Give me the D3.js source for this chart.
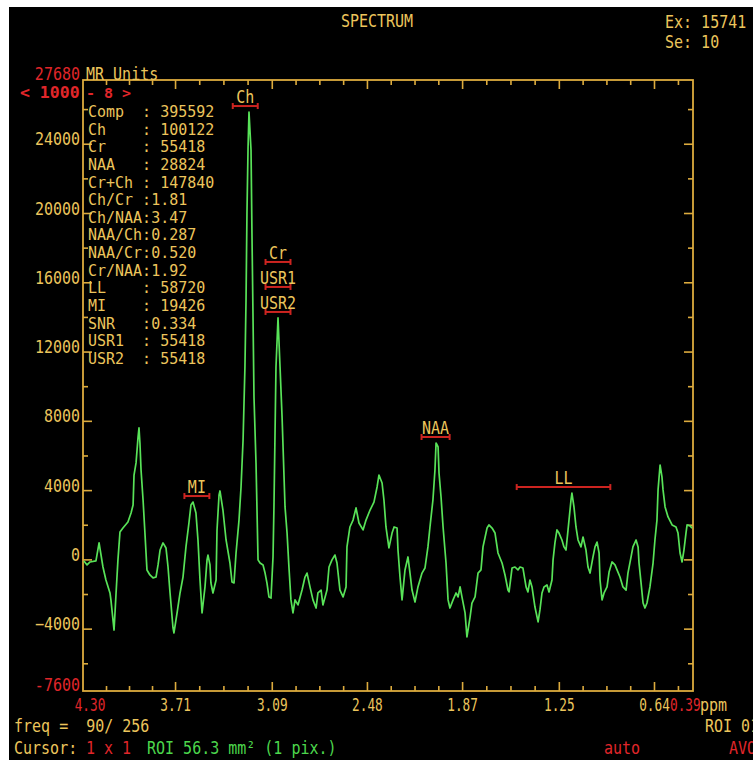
<!DOCTYPE html>
<html>
<head>
<meta charset="utf-8">
<script src="https://cdn.jsdelivr.net/npm/d3@7/dist/d3.min.js"></script>
<style>
  html, body { margin: 0; padding: 0; background: #ffffff; }
  svg { display: block; }
  text { font-family: "DejaVu Sans Mono", "Liberation Mono", monospace; white-space: pre; }
</style>
</head>
<body>
<svg id="chart" width="753" height="760"></svg>
<script>
// Spectrum samples: chemical shift (ppm) and signal (MR units)
const tracePpm = [
  4.294,4.274,4.255,4.217,4.197,4.172,4.153,4.127,4.121,4.101,
  4.088,4.076,4.063,4.044,4.012,3.992,3.979,3.973,3.960,3.947,
  3.941,3.935,3.928,3.915,3.903,3.890,3.871,3.851,3.832,3.819,
  3.806,3.787,3.768,3.755,3.742,3.723,3.717,3.697,3.678,3.659,
  3.640,3.621,3.608,3.595,3.576,3.563,3.550,3.537,3.518,3.505,
  3.499,3.486,3.480,3.467,3.447,3.441,3.428,3.422,3.403,3.383,
  3.358,3.345,3.332,3.319,3.300,3.287,3.274,3.262,3.255,3.249,
  3.242,3.236,3.223,3.217,3.210,3.204,3.191,3.178,3.165,3.146,
  3.133,3.121,3.108,3.095,3.082,3.076,3.063,3.050,3.037,3.024,
  3.005,2.992,2.980,2.967,2.954,2.941,2.922,2.896,2.877,2.864,
  2.845,2.826,2.806,2.794,2.774,2.762,2.736,2.723,2.704,2.685,
  2.672,2.653,2.633,2.614,2.608,2.589,2.569,2.550,2.531,2.505,
  2.486,2.460,2.435,2.415,2.403,2.383,2.371,2.358,2.339,2.319,
  2.306,2.287,2.281,2.268,2.255,2.236,2.217,2.204,2.191,2.172,
  2.153,2.127,2.108,2.089,2.076,2.057,2.044,2.037,2.024,2.018,
  2.005,1.992,1.973,1.960,1.948,1.928,1.909,1.896,1.883,1.871,
  1.851,1.839,1.819,1.807,1.787,1.768,1.749,1.736,1.710,1.698,
  1.678,1.659,1.640,1.614,1.595,1.576,1.569,1.550,1.531,1.512,
  1.499,1.480,1.460,1.448,1.435,1.422,1.403,1.383,1.371,1.358,
  1.345,1.326,1.313,1.294,1.287,1.275,1.262,1.249,1.230,1.217,
  1.204,1.191,1.172,1.166,1.153,1.140,1.127,1.108,1.095,1.076,
  1.063,1.050,1.031,1.018,1.005,0.992,0.986,0.973,0.960,0.941,
  0.928,0.909,0.890,0.877,0.858,0.839,0.819,0.807,0.787,0.775,
  0.755,0.742,0.736,0.723,0.710,0.698,0.685,0.666,0.646,0.634,
  0.621,0.614,0.601,0.589,0.582,0.569,0.550,0.524,0.499,0.486,
  0.473,0.460,0.448,0.435,0.428,0.409,0.396
];
const traceVal = [
  -90,-320,-150,-90,950,-440,-1190,-1940,-2340,-4080,
  -1940,-30,1580,1810,2160,2680,3140,4870,5570,7070,
  7590,6720,5160,3430,1520,-610,-900,-1070,-1020,-320,
  540,950,660,-440,-1940,-3960,-4250,-3090,-1940,-1020,
  720,2100,3140,3310,2680,1120,-1190,-3090,-1590,-30,
  250,-320,-1360,-1940,-1190,1700,3720,3950,2850,1120,
  -210,-1300,-1360,370,2270,4180,6890,11110,14980,20000,
  23810,25830,23640,18850,13820,9380,5570,-30,-210,-320,
  -790,-1360,-2170,-2230,140,3030,11110,13940,11110,8220,
  3030,1520,-440,-2340,-3090,-2340,-2630,-1770,-1020,-790,
  -1590,-2340,-2810,-1940,-1770,-2630,-1770,-440,-30,250,
  -210,-1770,-2170,-1590,720,1870,2270,2970,2100,1700,
  2270,2850,3310,4180,4870,4410,3430,1870,660,1520,
  1870,1810,540,-1020,-2340,-610,140,-790,-1770,-2460,
  -1590,-790,-500,720,1870,3430,5160,6720,6490,4990,
  3600,1870,-210,-2340,-2810,-2340,-1940,-2170,-1590,-2170,
  -3090,-4480,-3330,-2520,-2170,-790,-610,720,1810,1990,
  1810,1520,370,-210,-900,-1770,-1880,-500,-440,-610,
  -440,-500,-1590,-1880,-1190,-1590,-2750,-3610,-2920,-1940,
  -1590,-1480,-1880,-1190,-30,950,1700,1520,1120,720,
  540,1700,3430,3830,3030,1870,1120,720,1290,540,
  -440,-790,140,720,1000,370,-1190,-2340,-1940,-1590,
  -730,-150,-320,-610,-1020,-1590,-1770,-790,140,720,
  1120,720,-210,-1360,-2520,-2810,-2520,-1590,-210,1120,
  2270,4010,5450,4760,4010,3030,2450,1990,1870,1520,
  370,-150,540,1520,1990,1930,1810
];

// Axis ranges and tick labels
const ppmRange = [4.30, 0.39];
const signalRange = [-7600, 27680];
const xTickLabels = [3.71, 3.09, 2.48, 1.87, 1.25, 0.64];
const yTickLabels = [24000, 20000, 16000, 12000, 8000, 4000, 0, -4000];
const yMinorTicks = [26000, 22000, 18000, 14000, 10000, 6000, 2000, -2000, -6000];

// Integration regions (ppm)
const regionNames = ["Ch", "Cr", "USR1", "USR2", "MI", "NAA", "LL"];
const regionFrom  = [3.34, 3.13, 3.13, 3.13, 3.65, 2.13, 1.52];
const regionTo    = [3.18, 2.97, 2.97, 2.97, 3.49, 1.95, 0.92];

// Result table
const statNames  = ["Comp", "Ch", "Cr", "NAA", "Cr+Ch", "Ch/Cr", "Ch/NAA", "NAA/Ch",
                    "NAA/Cr", "Cr/NAA", "LL", "MI", "SNR", "USR1", "USR2"];
const statValues = [" 395592", " 100122", " 55418", " 28824", " 147840", "1.81", "3.47", "0.287",
                    "0.520", "1.92", " 58720", " 19426", "0.334", " 55418", " 55418"];

const YELLOW = "#ecc55c";
const FRAME = "#dcab3e";
const RED = "#e0262a";
const BAR_RED = "#cc2420";
const GREEN = "#58e258";

const svg = d3.select("#chart");
const W = 753, H = 760;

// screen background
svg.append("rect").attr("x", 0).attr("y", 0).attr("width", W).attr("height", H).attr("fill", "#ffffff");
svg.append("rect").attr("x", 9).attr("y", 7).attr("width", W - 9).attr("height", H - 7).attr("fill", "#000000");

const plot = { left: 83, right: 693, top: 80, bottom: 691 };
const x = d3.scaleLinear().domain(ppmRange).range([plot.left, plot.right]);
const y = d3.scaleLinear().domain(signalRange).range([plot.bottom, plot.top]);

// tall, narrow terminal-style text
function label(txt, px, py, color, anchor, size, sx, sy) {
  return svg.append("text")
    .attr("transform", `translate(${px},${py}) scale(${sx || 1},${sy || 1.15})`)
    .attr("fill", color)
    .attr("text-anchor", anchor || "start")
    .attr("font-size", (size || 15) + "px")
    .text(txt);
}

// minor x ticks: quarters between labelled ticks, continued past both ends
const xMajorAll = [ppmRange[0], ...xTickLabels];
const xMinor = [];
for (let i = 0; i < xMajorAll.length - 1; i++) {
  const a = xMajorAll[i], b = xMajorAll[i + 1];
  for (let k = 1; k < 4; k++) xMinor.push(a + (b - a) * k / 4);
}
const xStep = (xTickLabels[0] - xTickLabels[xTickLabels.length - 1]) / (xTickLabels.length - 1) / 4;
for (let v = xTickLabels[xTickLabels.length - 1] - xStep; v > ppmRange[1]; v -= xStep) xMinor.push(v);

function styleAxis(g) {
  g.select(".domain").remove();
  g.selectAll(".tick line").attr("stroke", FRAME).attr("stroke-width", 1.6);
}

// bottom axis (ticks pointing into the plot)
const gBottom = svg.append("g").attr("transform", `translate(0,${plot.bottom})`);
gBottom.append("g").call(d3.axisBottom(x).tickValues(xMinor).tickSize(-5).tickFormat("")).call(styleAxis);
gBottom.append("g").call(d3.axisBottom(x).tickValues(xTickLabels).tickSize(-9).tickPadding(0)
    .tickFormat(d3.format(".2f")))
  .call(styleAxis)
  .call(g => g.selectAll("text")
    .attr("y", 0).attr("dy", 0)
    .attr("transform", "translate(0,20) scale(0.85,1.15)")
    .attr("fill", YELLOW).attr("font-size", "15px")
    .attr("font-family", "DejaVu Sans Mono"));

// top axis
const gTop = svg.append("g").attr("transform", `translate(0,${plot.top})`);
gTop.append("g").call(d3.axisTop(x).tickValues(xMinor).tickSize(-5).tickFormat("")).call(styleAxis);
gTop.append("g").call(d3.axisTop(x).tickValues(xTickLabels).tickSize(-9).tickFormat("")).call(styleAxis);

// left axis
const gLeft = svg.append("g").attr("transform", `translate(${plot.left},0)`);
gLeft.append("g").call(d3.axisLeft(y).tickValues(yMinorTicks).tickSize(-5).tickFormat("")).call(styleAxis);
gLeft.append("g").call(d3.axisLeft(y).tickValues(yTickLabels).tickSize(-9).tickPadding(3).tickFormat(d3.format("d")))
  .call(styleAxis)
  .call(g => g.selectAll("text")
    .attr("x", -3).attr("dy", 0)
    .attr("transform", "translate(0,1) scale(1,1.15)")
    .attr("fill", YELLOW).attr("font-size", "15px")
    .attr("font-family", "DejaVu Sans Mono"));

// right axis
const gRight = svg.append("g").attr("transform", `translate(${plot.right},0)`);
gRight.append("g").call(d3.axisRight(y).tickValues(yMinorTicks).tickSize(-5).tickFormat("")).call(styleAxis);
gRight.append("g").call(d3.axisRight(y).tickValues(yTickLabels).tickSize(-9).tickFormat("")).call(styleAxis);

// frame
svg.append("rect")
  .attr("x", plot.left).attr("y", plot.top)
  .attr("width", plot.right - plot.left).attr("height", plot.bottom - plot.top)
  .attr("fill", "none").attr("stroke", FRAME).attr("stroke-width", 1.8);

// range end labels
label(String(signalRange[1]), plot.left - 3, y(signalRange[1]), RED, "end");
label(String(signalRange[0]), plot.left - 3, y(signalRange[0]), RED, "end");
label(ppmRange[0].toFixed(2), x(ppmRange[0]) + 7, plot.bottom + 20, RED, "middle", 15, 0.85);
label(ppmRange[1].toFixed(2), x(ppmRange[1]) - 23, plot.bottom + 20, RED, "start", 15, 0.85);
label("ppm", plot.right + 7, plot.bottom + 20, YELLOW, "start");
label("MR Units", 86, plot.top, YELLOW, "start");
label("< 1000", 20, 98, RED, "start", 16.5, 1, 0.92).attr("font-weight", "bold");
label("- 8 >", 86, 98, RED, "start", 15, 1, 0.95).attr("font-weight", "bold");

// header
label("SPECTRUM", 377, 27, YELLOW, "middle");
label("Ex: 15741", 665, 28, YELLOW, "start");
label("Se: 10", 665, 48, YELLOW, "start");

// result table
statNames.forEach((n, i) => {
  label(n.padEnd(6, " ") + ":" + statValues[i], 88, 117 + i * 17.64, YELLOW, "start", 15, 1, 1.05);
});

// spectrum trace
const trace = d3.zip(tracePpm, traceVal);
svg.append("path")
  .datum(trace)
  .attr("fill", "none")
  .attr("stroke", GREEN)
  .attr("stroke-width", 1.7)
  .attr("stroke-linejoin", "round")
  .attr("d", d3.line().x(d => x(d[0])).y(d => y(d[1])));

// region markers stacked above the highest sample inside each region
regionNames.forEach((name, i) => {
  const lo = Math.min(regionFrom[i], regionTo[i]), hi = Math.max(regionFrom[i], regionTo[i]);
  const peak = d3.max(trace.filter(d => d[0] >= lo && d[0] <= hi), d => d[1]);
  let level = 0;
  for (let j = i + 1; j < regionNames.length; j++) {
    if (regionFrom[j] === regionFrom[i] && regionTo[j] === regionTo[i]) level++;
  }
  const by = y(peak) - 6 - level * 25;
  const x0 = x(regionFrom[i]), x1 = x(regionTo[i]);
  const g = svg.append("g").attr("stroke", BAR_RED).attr("stroke-width", 2);
  g.append("line").attr("x1", x0).attr("x2", x1).attr("y1", by).attr("y2", by);
  g.append("line").attr("x1", x0).attr("x2", x0).attr("y1", by - 3).attr("y2", by + 3);
  g.append("line").attr("x1", x1).attr("x2", x1).attr("y1", by - 3).attr("y2", by + 3);
  label(name, (x0 + x1) / 2, by - 3, YELLOW, "middle");
});

// status lines
label("freq =  90/ 256", 14, 732, YELLOW, "start");
label("ROI 01", 705, 732, YELLOW, "start");
label("Cursor:", 14, 754, YELLOW, "start");
label("1 x 1", 86, 754, RED, "start");
label("ROI 56.3 mm\u00B2 (1 pix.)", 147, 754, "#4cd64c", "start");
label("auto", 604, 754, RED, "start");
label("AVO", 729, 754, RED, "start");
</script>
</body>
</html>
